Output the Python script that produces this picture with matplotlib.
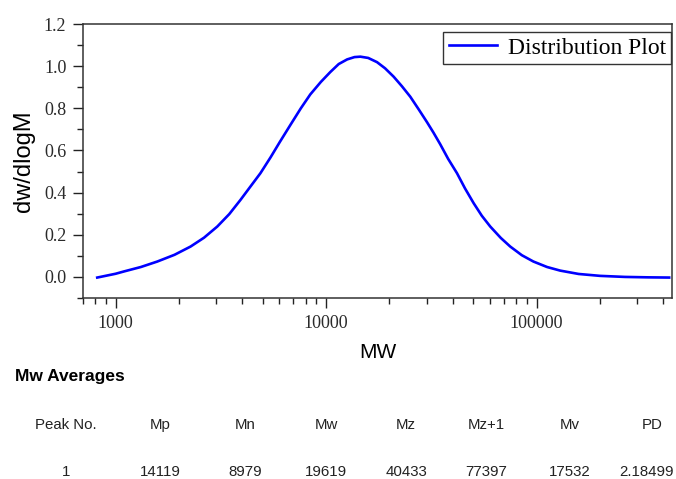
import numpy as np
import matplotlib.pyplot as plt
from matplotlib.ticker import LogLocator, FixedLocator, MultipleLocator

# distribution curve
mw = [818, 1000, 1096, 1318, 1578, 1905, 2270, 2630, 3041, 3467, 3917, 4365,
      4875, 5445, 6026, 6776, 7586, 8414, 9441, 10471, 11482, 12589, 13646,
      14555, 15849, 17458, 19055, 20941, 22909, 25119, 27542, 30130, 32359,
      34834, 38019, 41879, 45709, 50234, 54954, 60256, 67608, 74989, 85114,
      96605, 112202, 129420, 158489, 200447, 263027, 338844, 426580]
dwdlogm = [-0.003, 0.015, 0.026, 0.047, 0.073, 0.105, 0.144, 0.186, 0.239,
           0.298, 0.365, 0.428, 0.492, 0.567, 0.640, 0.722, 0.800, 0.866,
           0.925, 0.972, 1.010, 1.032, 1.043, 1.045, 1.039, 1.019, 0.990,
           0.950, 0.905, 0.855, 0.795, 0.735, 0.685, 0.630, 0.560, 0.492,
           0.420, 0.350, 0.290, 0.239, 0.185, 0.144, 0.103, 0.073, 0.047,
           0.030, 0.014, 0.005, 0.000, -0.002, -0.003]

# averages table
headers = ["Peak No.", "Mp", "Mn", "Mw", "Mz", "Mz+1", "Mv", "PD"]
values = ["1", "14119", "8979", "19619", "40433", "77397", "17532", "2.18499"]

W, H = 676, 479
fig = plt.figure(figsize=(W / 100, H / 100), dpi=100)
ax = fig.add_axes([83 / W, 1 - 298 / H, 589 / W, 274 / H])

ax.plot(mw, dwdlogm, color='#0000ff', lw=1.9, label='Distribution Plot',
        solid_joinstyle='round')
ax.set_xscale('log')
ax.set_xlim(700, 440000)
ax.set_ylim(-0.1, 1.2)

serif = 'Liberation Serif'
sans = 'Liberation Sans'

ax.xaxis.set_major_locator(FixedLocator([1000, 10000, 100000]))
ax.xaxis.set_minor_locator(LogLocator(base=10, subs=np.arange(2, 10)))
ax.set_xticklabels(['1000', '10000', '100000'])
ax.yaxis.set_major_locator(FixedLocator([0.0, 0.2, 0.4, 0.6, 0.8, 1.0, 1.2]))
ax.yaxis.set_minor_locator(MultipleLocator(0.1))
ax.yaxis.set_major_formatter(plt.FuncFormatter(lambda v, p: '%.1f' % v))

ax.tick_params(which='major', direction='out', length=7, width=1, labelsize=13,
               pad=5, colors='#222222')
ax.tick_params(which='minor', direction='out', length=4, width=1, colors='#222222')
for lab in ax.get_xticklabels() + ax.get_yticklabels():
    lab.set_family(serif)
    lab.set_color('#2a2a2a')

for s in ax.spines.values():
    s.set_linewidth(1.1)
    s.set_color('#333333')

ax.set_ylabel('dw/dlogM', family=sans, fontsize=17, labelpad=6)
ax.set_xlabel('MW', family=sans, fontsize=15, labelpad=8)

leg = ax.legend(loc='upper right', bbox_to_anchor=(671 / W, 1 - 32 / H),
                bbox_transform=fig.transFigure, borderaxespad=0,
                prop={'family': serif, 'size': 17}, fancybox=False,
                edgecolor='#333333', framealpha=1, handlelength=2.05,
                handletextpad=0.45, borderpad=0.22)
leg.get_frame().set_linewidth(1)

fig.text(15 / W, 1 - 377 / H, 'Mw Averages', family=sans, fontsize=12.5,
         fontweight='bold', va='center', ha='left')

col_x = [66, 160, 245, 326, 406, 486, 570, 652]
for cx, h, v in zip(col_x, headers, values):
    fig.text(cx / W, 1 - 425 / H, h, family=sans, fontsize=10.8, ha='center',
             va='center', color='#222222')
    if v == values[-1]:
        # last value runs to the right edge, keep it inside the figure
        fig.text(674 / W, 1 - 472 / H, v, family=sans, fontsize=10.8,
                 ha='right', va='center', color='#222222')
    else:
        fig.text(cx / W, 1 - 472 / H, v, family=sans, fontsize=10.8,
                 ha='center', va='center', color='#222222')

fig.savefig('out.png', dpi=100)
